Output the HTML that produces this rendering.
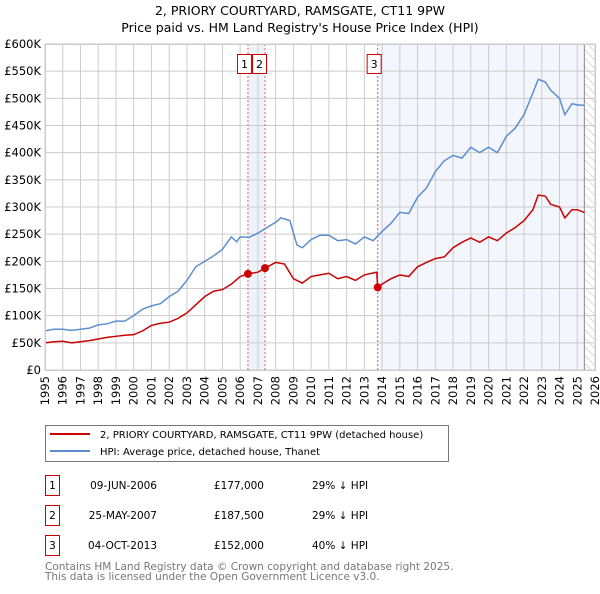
<!DOCTYPE html>
<html><head><meta charset="utf-8"><style>
body{margin:0;background:#fff;font-family:"DejaVu Sans","Liberation Sans",sans-serif;}
svg text{font-family:"DejaVu Sans","Liberation Sans",sans-serif;}
</style></head><body>
<svg id="c" width="600" height="590" xmlns="http://www.w3.org/2000/svg">
<defs><pattern id="hatch" width="6" height="6" patternUnits="userSpaceOnUse" patternTransform="rotate(-45)"><line x1="0" y1="0" x2="0" y2="6" stroke="#bbb" stroke-width="1"/></pattern></defs>
<text x="300" y="15" text-anchor="middle" font-size="12.5">2, PRIORY COURTYARD, RAMSGATE, CT11 9PW</text>
<text x="300" y="32" text-anchor="middle" font-size="12.5">Price paid vs. HM Land Registry's House Price Index (HPI)</text>
<g id="plot"></g>
<g>
<rect x="45.5" y="425.5" width="403" height="36" fill="#fff" stroke="#777"/>
<line x1="50" y1="434" x2="90" y2="434" stroke="#cc0000" stroke-width="2"/>
<text x="100" y="438" font-size="10">2, PRIORY COURTYARD, RAMSGATE, CT11 9PW (detached house)</text>
<line x1="50" y1="451" x2="90" y2="451" stroke="#5b8fd0" stroke-width="2"/>
<text x="100" y="455" font-size="10">HPI: Average price, detached house, Thanet</text>
</g>
<g id="table" font-size="10.5"></g>
<text x="45" y="570" font-size="10.5" fill="#777">Contains HM Land Registry data © Crown copyright and database right 2025.</text>
<text x="45" y="580" font-size="10.5" fill="#777">This data is licensed under the Open Government Licence v3.0.</text>
</svg>
<script>
const yTicks=[0,50,100,150,200,250,300,350,400,450,500,550,600];
const yLabels=["£0","£50K","£100K","£150K","£200K","£250K","£300K","£350K","£400K","£450K","£500K","£550K","£600K"];
const years=[1995,1996,1997,1998,1999,2000,2001,2002,2003,2004,2005,2006,2007,2008,2009,2010,2011,2012,2013,2014,2015,2016,2017,2018,2019,2020,2021,2022,2023,2024,2025,2026];
const hpiT=[1995,1995.5,1996,1996.5,1997,1997.5,1998,1998.5,1999,1999.5,2000,2000.5,2001,2001.5,2002,2002.5,2003,2003.5,2004,2004.5,2005,2005.5,2005.8,2006,2006.5,2007,2007.5,2008,2008.3,2008.8,2009.2,2009.5,2010,2010.5,2011,2011.5,2012,2012.5,2013,2013.5,2014,2014.5,2015,2015.5,2016,2016.5,2017,2017.5,2018,2018.5,2019,2019.5,2020,2020.5,2021,2021.5,2022,2022.5,2022.8,2023.2,2023.5,2024,2024.3,2024.7,2025,2025.4];
const hpiV=[72,75,75,73,75,77,83,85,90,90,100,112,118,122,135,145,165,190,200,210,222,245,236,245,244,252,262,272,280,275,230,225,240,248,248,238,240,232,245,238,255,270,290,288,318,335,365,385,395,390,410,400,410,400,430,445,470,510,535,530,515,500,470,490,488,487];
const ppT=[1995,1995.5,1996,1996.5,1997,1997.5,1998,1998.5,1999,1999.5,2000,2000.5,2001,2001.5,2002,2002.5,2003,2003.5,2004,2004.5,2005,2005.5,2006,2006.44,2007,2007.4,2008,2008.5,2009,2009.5,2010,2010.5,2011,2011.5,2012,2012.5,2013,2013.7,2013.75,2014,2014.5,2015,2015.5,2016,2016.5,2017,2017.5,2018,2018.5,2019,2019.5,2020,2020.5,2021,2021.5,2022,2022.5,2022.8,2023.2,2023.5,2024,2024.3,2024.7,2025,2025.4];
const ppV=[50,52,53,50,52,54,57,60,62,64,65,72,82,86,88,95,105,120,135,145,148,158,172,177,180,187.5,198,195,168,160,172,175,178,168,172,165,175,180,152,158,168,175,172,190,198,205,208,225,235,243,235,245,238,252,262,275,295,322,320,305,300,280,295,295,290];
const saleT=[2006.44,2007.4,2013.75];
const saleV=[177,187.5,152];
const saleLabels=["1","2","3"];
const saleDates=["09-JUN-2006","25-MAY-2007","04-OCT-2013"];
const salePrices=["£177,000","£187,500","£152,000"];
const saleHpi=["29% ↓ HPI","29% ↓ HPI","40% ↓ HPI"];
const X0=45,X1=595,Y0=370,Y1=44;
const sx=t=>X0+(t-1995)/(2026-1995)*(X1-X0);
const sy=v=>Y0-v/600*(Y0-Y1);
const NS="http://www.w3.org/2000/svg";
const plot=document.getElementById('plot');
function mk(tag,attrs,parent){const e=document.createElementNS(NS,tag);for(const k in attrs)e.setAttribute(k,attrs[k]);(parent||plot).appendChild(e);return e;}
let e;
e=mk('rect',{x:sx(saleT[0]),y:Y1,width:sx(saleT[1])-sx(saleT[0]),height:Y0-Y1,fill:'#eef3fb'});


e=mk('rect',{x:sx(saleT[2]),y:Y1,width:sx(2025.4)-sx(saleT[2]),height:Y0-Y1,fill:'#f3f6fd'});


e=mk('rect',{x:sx(2025.4),y:Y1,width:X1-sx(2025.4),height:Y0-Y1,fill:'url(#hatch)'});


yTicks.forEach((v,i)=>{
 e=mk('line',{x1:X0,x2:X1,y1:sy(v),y2:sy(v),stroke:'#ccc','stroke-width':1});
 
 
 e=mk('text',{x:X0-4,y:sy(v)+4,'text-anchor':'end','font-size':11.5});
 e.textContent=yLabels[i];
 
 
});
years.forEach(y=>{
 e=mk('line',{x1:sx(y),x2:sx(y),y1:Y1,y2:Y0,stroke:'#ccc','stroke-width':1});
 
 
 e=mk('text',{x:0,y:0,'text-anchor':'end','font-size':11.5,transform:`translate(${sx(y)+4},${Y0+6}) rotate(-90)`});
 e.textContent=y;
 
 
});
e=mk('line',{x1:sx(2025.4),x2:sx(2025.4),y1:Y1,y2:Y0,stroke:'#888','stroke-width':1});


const boxOff=[-10,-12,-10];
saleT.forEach((t,i)=>{
 e=mk('line',{x1:sx(t),x2:sx(t),y1:Y1,y2:Y0,stroke:'#e06060','stroke-width':1,'stroke-dasharray':'2,2'});
 
 
 const bx=sx(t)+boxOff[i];
 e=mk('rect',{x:bx-0.5,y:54.5,width:14,height:19,fill:'#fff',stroke:'#cc0000'});
 
 
 e=mk('text',{x:bx+6.5,y:68,'text-anchor':'middle','font-size':11});
 e.textContent=saleLabels[i];
 
 
});
e=mk('polyline',{points:hpiT.map((t,i)=>sx(t)+','+sy(hpiV[i])).join(' '),fill:'none',stroke:'#5b8fd0','stroke-width':1.5});


e=mk('polyline',{points:ppT.map((t,i)=>sx(t)+','+sy(ppV[i])).join(' '),fill:'none',stroke:'#cc0000','stroke-width':1.5});


saleT.forEach((t,i)=>{
 e=mk('circle',{cx:sx(t),cy:sy(saleV[i]),r:4,fill:'#cc0000'});
 
 
});
e=mk('rect',{x:X0+0.5,y:Y1+0.5,width:X1-X0,height:Y0-Y1,fill:'none',stroke:'#ccc'});


const tbl=document.getElementById('table');
saleLabels.forEach((l,i)=>{
 const y=475+i*30;
 e=mk('rect',{x:45.5,y:y+0.5,width:14,height:20,fill:'#fff',stroke:'#cc0000'},tbl);
 
 
 e=mk('text',{x:52.5,y:y+14,'text-anchor':'middle'},tbl);e.textContent=l;
 
 
 e=mk('text',{x:157,y:y+14,'text-anchor':'end'},tbl);e.textContent=saleDates[i];
 
 
 e=mk('text',{x:264,y:y+14,'text-anchor':'end'},tbl);e.textContent=salePrices[i];
 
 
 e=mk('text',{x:312,y:y+14},tbl);e.textContent=saleHpi[i];
 
 
});
</script>
</body></html>
